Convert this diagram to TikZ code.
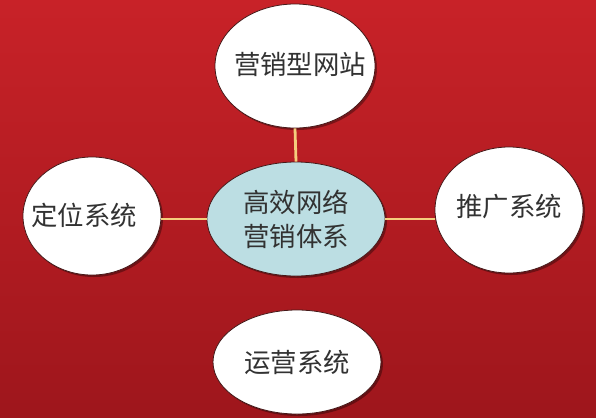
\documentclass[tikz,border=0pt]{standalone}
\usepackage{fontspec}
\newfontfamily\cjk{Noto Sans CJK SC}
\usetikzlibrary{shapes.geometric,shadows}
\definecolor{bgtop}{RGB}{200,34,40}
\definecolor{bgbot}{RGB}{158,22,28}
\definecolor{linkc}{RGB}{245,205,125}
\definecolor{hubfill}{RGB}{188,222,227}
\definecolor{edgec}{RGB}{70,25,25}
\definecolor{txt}{RGB}{50,50,50}
\newcommand{\mv}[3]{\makebox[0pt]{\hspace*{#1}\raisebox{#2}{#3}}}
\begin{document}
\begin{tikzpicture}[x=1bp,y=-1bp,
  bubble/.style={ellipse,draw=edgec,line width=0.8bp,fill=white,inner sep=0pt,
    text=txt,font=\cjk\fontsize{26.5}{31}\selectfont,align=center,
    drop shadow={shadow xshift=2bp,shadow yshift=-2bp,fill=black,opacity=.35}},
  hub/.style={bubble,fill=hubfill},
  link/.style={draw=linkc,line width=2.8bp}]
\useasboundingbox (0,0) rectangle (596,417);
\fill[top color=bgtop,bottom color=bgbot] (0,0) rectangle (596,417);
% nodes
\node[bubble,minimum width=160bp,minimum height=124bp] (t) at (295,66) {\mv{10bp}{6bp}{营销型网站}};
\node[bubble,minimum width=138bp,minimum height=118bp] (l) at (92,216) {\mv{-16bp}{3bp}{定位系统}};
\node[bubble,minimum width=148bp,minimum height=126bp] (r) at (509,210) {\mv{0bp}{9bp}{推广系统}};
\node[bubble,minimum width=168bp,minimum height=104bp] (b) at (297,362) {\mv{0bp}{2bp}{运营系统}};
\node[hub,minimum width=178bp,minimum height=114bp] (c) at (296,219) {\raisebox{3bp}{高效网络}\\营销体系};
% connectors
\draw[link] (c.north) -- (t.south);
\draw[link] (c.west) -- (c.west -| l.east);
\draw[link] (c.east) -- (c.east -| r.west);
\end{tikzpicture}
\end{document}
